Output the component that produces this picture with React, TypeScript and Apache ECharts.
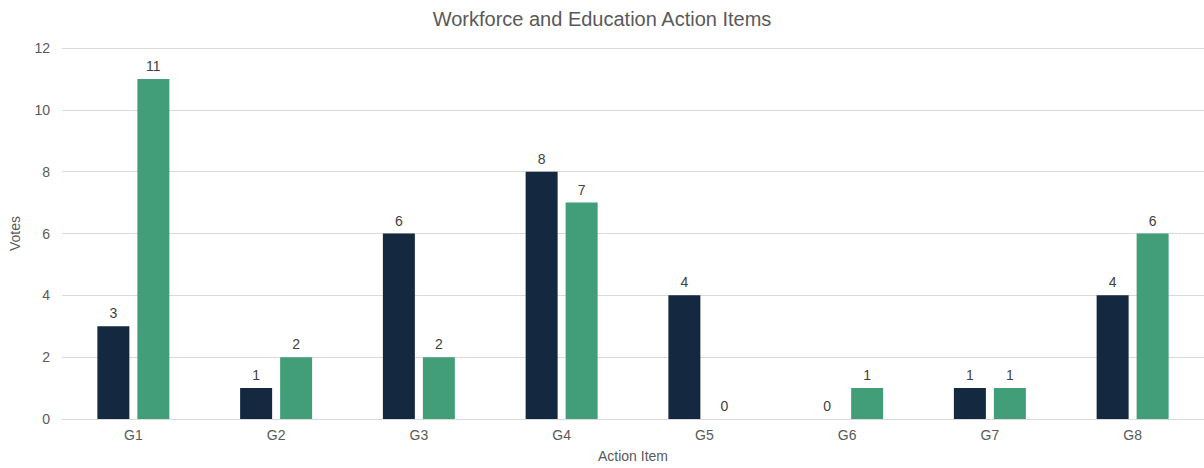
import React, { useEffect, useRef } from "react";
import * as echarts from "echarts";

const categories = ["G1", "G2", "G3", "G4", "G5", "G6", "G7", "G8"];
const seriesA = [3, 1, 6, 8, 4, 0, 1, 4];
const seriesB = [11, 2, 2, 7, 0, 1, 1, 6];
const yTicks = { min: 0, max: 12, interval: 2 };

const FONT = "'Liberation Sans', Arial, sans-serif";
const TXT = "#595959";

export default function App() {
  const ref = useRef<HTMLDivElement>(null);
  useEffect(() => {
    if (!ref.current) return;
    const chart = echarts.init(ref.current, null, { renderer: "svg" });
    const label = {
      show: true,
      position: "top" as const,
      distance: 6,
      color: "#404040",
      fontSize: 14,
      fontFamily: FONT,
    };
    chart.setOption({
      animation: false,
      backgroundColor: "#ffffff",
      textStyle: { fontFamily: FONT },
      title: {
        text: "Workforce and Education Action Items",
        left: "center",
        top: 4,
        textStyle: { fontSize: 20, fontWeight: "normal", color: TXT, fontFamily: FONT },
      },
      grid: { left: 60, right: -3, top: 48, bottom: 46 },
      xAxis: {
        type: "category",
        data: categories,
        name: "Action Item",
        nameLocation: "middle",
        nameGap: 30,
        nameTextStyle: { color: TXT, fontSize: 14, fontFamily: FONT },
        axisLine: { lineStyle: { color: "#d9d9d9" } },
        axisTick: { show: false },
        axisLabel: { color: TXT, fontSize: 14, margin: 9, fontFamily: FONT },
      },
      yAxis: {
        type: "value",
        min: yTicks.min,
        max: yTicks.max,
        interval: yTicks.interval,
        name: "Votes",
        nameLocation: "middle",
        nameGap: 40,
        nameRotate: 90,
        nameTextStyle: { color: TXT, fontSize: 14, fontFamily: FONT },
        axisLine: { show: false },
        axisTick: { show: false },
        axisLabel: { color: TXT, fontSize: 14, margin: 12, fontFamily: FONT },
        splitLine: { lineStyle: { color: "#d9d9d9", width: 1 } },
      },
      series: [
        {
          type: "bar",
          name: "A",
          data: seriesA,
          barWidth: 32,
          barGap: "25%",
          itemStyle: { color: "#14293f" },
          label,
        },
        {
          type: "bar",
          name: "B",
          data: seriesB,
          barWidth: 32,
          itemStyle: { color: "#419e78" },
          label,
        },
      ],
    });
    return () => chart.dispose();
  }, []);
  return <div ref={ref} style={{ width: 1204, height: 468, position: "absolute", left: 0, top: 0 }} />;
}
